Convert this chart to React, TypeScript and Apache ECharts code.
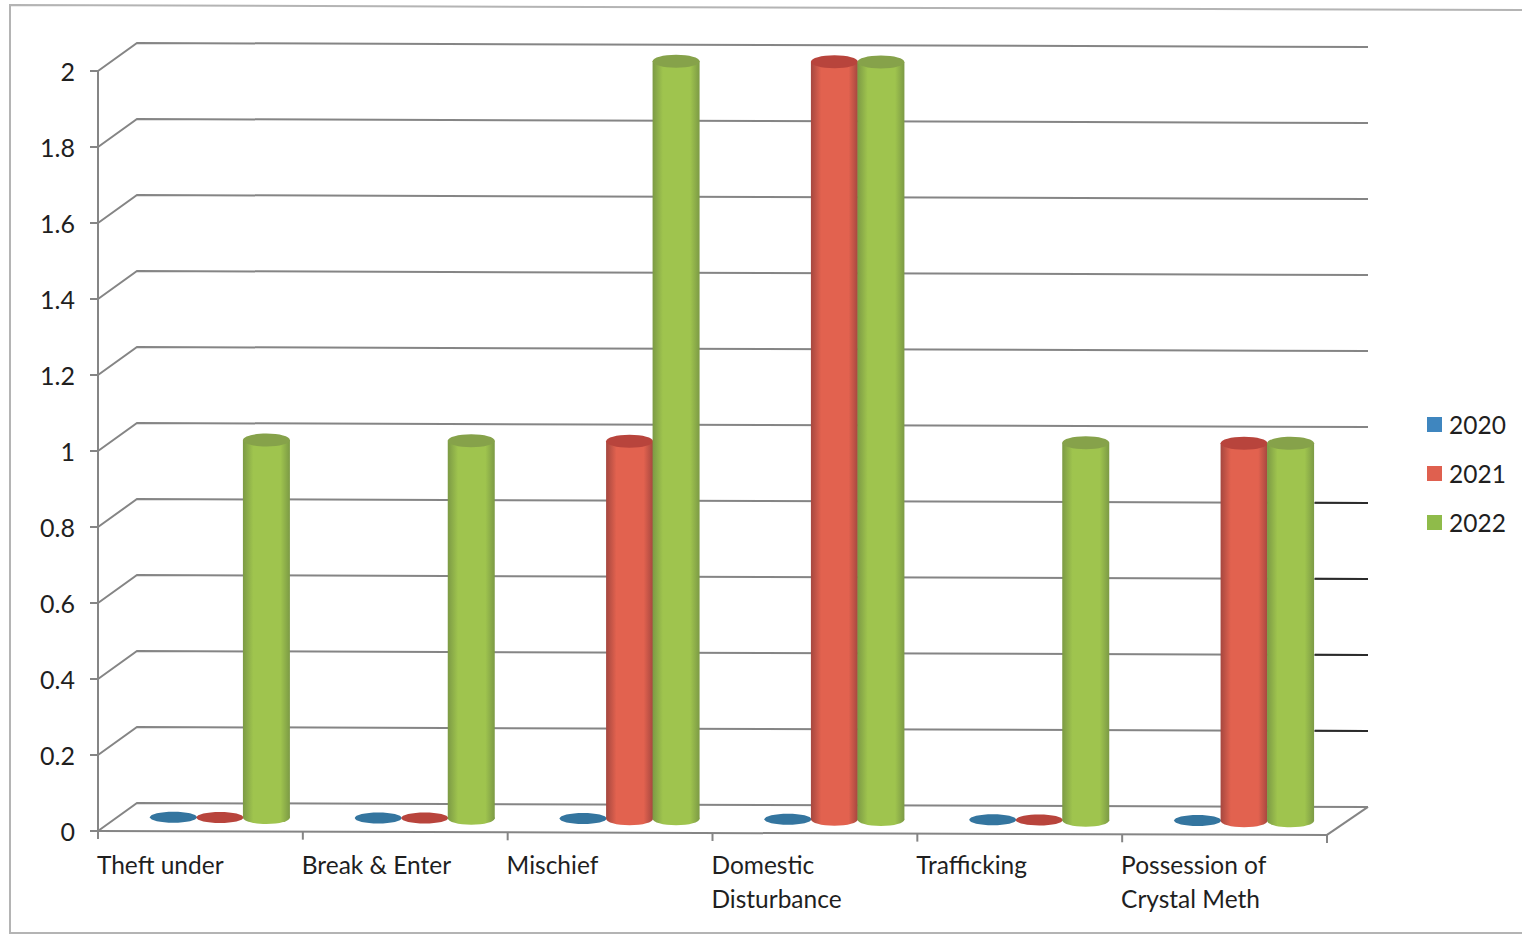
import React, { useEffect, useRef } from "react";
import * as echarts from "echarts";

const categories = [
  "Theft under",
  "Break & Enter",
  "Mischief",
  "Domestic\nDisturbance",
  "Trafficking",
  "Possession of\nCrystal Meth",
];
const years = ["2020", "2021", "2022"];
const values2020 = [0, 0, 0, 0, 0, 0];
const values2021 = [0, 0, 1, 2, 0, 1];
const values2022 = [1, 1, 2, 2, 1, 1];
const gridValues = [0, 0.2, 0.4, 0.6, 0.8, 1, 1.2, 1.4, 1.6, 1.8, 2];
const darkEndValues = [0.2, 0.4, 0.6, 0.8];

// Pseudo-3D projection of the plot box
const DEPTH_X = 39;
const DEPTH_Y = 28;
const TILT = 0.0032;
const BAR_W = 47;
const BAR_STEP = 46.5;
const CAP_RY = 6.5;
const CAP_DROP = 2.5;
const FONT = "Lato, Carlito, 'Noto Sans', sans-serif";
const TEXT_COLOR = "#1f1f1f";
const LINE_COLOR = "#858585";

const palette = [
  { legend: "#3f86bf", edge: "#2f6f9f", mid: "#4a90c4", cap: "#34759f" },
  { legend: "#df604f", edge: "#a5473f", mid: "#e2624f", cap: "#b8443c" },
  { legend: "#8fbb4a", edge: "#7c9a45", mid: "#9fc44e", cap: "#86a24a" },
];

const line = (x1: number, y1: number, x2: number, y2: number, color: string, width = 2) => ({
  type: "line",
  shape: { x1, y1, x2, y2 },
  style: { stroke: color, lineWidth: width },
});

// Back-wall gridline for one axis value, with its slanted run on the side wall
const renderGridLine = (params: any, api: any) => {
  const v = api.value(0);
  const sys = params.coordSys;
  const y = api.coord([0, v])[1];
  const backLeft = sys.x + DEPTH_X;
  const backRight = sys.x + sys.width + DEPTH_X + 2;
  const yBackLeft = y - DEPTH_Y;
  const yBackRight = yBackLeft + (backRight - backLeft) * TILT;
  const children: any[] = [
    {
      type: "polyline",
      shape: { points: [[sys.x, y], [backLeft, yBackLeft], [backRight, yBackRight]] },
      style: { stroke: LINE_COLOR, lineWidth: 2, fill: "none" },
    },
  ];
  if (darkEndValues.includes(v)) {
    const xd = sys.x + sys.width - 12;
    children.push(line(xd, yBackLeft + (xd - backLeft) * TILT, backRight, yBackRight, "#2b2b2b"));
  }
  return { type: "group", children };
};

// Front edge of the floor, its right-hand slant and the tick marks under it
const renderFloor = (params: any, api: any) => {
  const sys = params.coordSys;
  const y0 = api.coord([0, 0])[1];
  const right = sys.x + sys.width;
  const yAt = (x: number) => y0 + (x - sys.x) * TILT;
  const children: any[] = [
    line(sys.x, y0, right, yAt(right), LINE_COLOR),
    line(right, yAt(right), right + DEPTH_X + 2, yAt(right) - DEPTH_Y, LINE_COLOR),
  ];
  const band = sys.width / categories.length;
  for (let i = 0; i <= categories.length; i++) {
    const x = sys.x + band * i;
    children.push(line(x, yAt(x), x, yAt(x) + 8, LINE_COLOR));
  }
  return { type: "group", children };
};

// One cylinder: shaded body, base ellipse and darker top cap
const cylinderRenderer = (seriesIndex: number) => (params: any, api: any) => {
  const colors = palette[seriesIndex];
  const base = api.coord([api.value(0), 0]);
  const top = api.coord([api.value(0), api.value(1)]);
  const cx = base[0] + (seriesIndex - 1) * BAR_STEP + DEPTH_X / 2;
  const drop = (cx - params.coordSys.x) * TILT - DEPTH_Y / 2;
  const yBase = base[1] + drop;
  const raised = api.value(1) > 0;
  const yTop = top[1] + drop + (raised ? CAP_DROP : 0);
  const rx = BAR_W / 2;
  const fill = new echarts.graphic.LinearGradient(0, 0, 1, 0, [
    { offset: 0, color: colors.edge },
    { offset: 0.22, color: colors.mid },
    { offset: 0.8, color: colors.mid },
    { offset: 1, color: colors.edge },
  ]);
  const children: any[] = [];
  if (raised) {
    children.push(
      { type: "ellipse", shape: { cx, cy: yBase, rx, ry: CAP_RY }, style: { fill } },
      { type: "rect", shape: { x: cx - rx, y: yTop, width: BAR_W, height: yBase - yTop }, style: { fill } },
    );
  }
  children.push({
    type: "ellipse",
    shape: { cx, cy: yTop, rx, ry: raised ? CAP_RY : 5.5 },
    style: { fill: colors.cap },
  });
  return { type: "group", children };
};

const barSeries = (name: string, values: number[], index: number) => ({
  type: "custom",
  name,
  z: 5 + index,
  clip: false,
  silent: true,
  itemStyle: { color: palette[index].legend },
  encode: { x: 0, y: 1 },
  data: values.map((v, i) => [i, v]),
  renderItem: cylinderRenderer(index),
});

export default function App() {
  const ref = useRef<HTMLDivElement>(null);
  useEffect(() => {
    const chart = echarts.init(ref.current!, undefined, { renderer: "svg" });
    chart.setOption({
      animation: false,
      backgroundColor: "#ffffff",
      grid: { left: 98, top: 71, width: 1229, height: 760 },
      graphic: [
        {
          type: "polyline",
          silent: true,
          shape: { points: [[1522, 10], [10, 5], [10, 933], [1522, 933]] },
          style: { stroke: "#b4b4b4", lineWidth: 2, fill: "none" },
        },
      ],
      legend: {
        data: years,
        orient: "vertical",
        left: 1422,
        top: 407,
        icon: "rect",
        itemWidth: 15,
        itemHeight: 15,
        itemGap: 24,
        selectedMode: false,
        textStyle: { fontFamily: FONT, fontSize: 24.5, color: TEXT_COLOR, padding: [0, 0, 0, 2] },
      },
      xAxis: {
        type: "category",
        data: categories,
        axisLine: { show: false },
        axisTick: { show: false },
        axisLabel: {
          interval: 0,
          margin: 16,
          align: "center",
          hideOverlap: false,
          formatter: (text: string) =>
            text.split("\n").map((part) => `{a|${part}}`).join("\n"),
          rich: {
            a: {
              width: 207,
              align: "left",
              lineHeight: 34,
              fontFamily: FONT,
              fontSize: 24.5,
              color: TEXT_COLOR,
            },
          },
        },
      },
      yAxis: {
        type: "value",
        min: 0,
        max: 2,
        interval: 0.2,
        splitLine: { show: false },
        axisLine: { show: true, lineStyle: { color: LINE_COLOR, width: 2 } },
        axisTick: { show: true, length: 8, lineStyle: { color: LINE_COLOR, width: 2 } },
        axisLabel: { margin: 23, fontFamily: FONT, fontSize: 25, color: TEXT_COLOR },
      },
      series: [
        {
          type: "custom",
          name: "grid",
          z: 1,
          silent: true,
          clip: false,
          encode: { y: 0 },
          data: gridValues.map((v) => [v]),
          renderItem: renderGridLine,
        },
        {
          type: "custom",
          name: "floor",
          z: 2,
          silent: true,
          clip: false,
          data: [[0]],
          renderItem: renderFloor,
        },
        barSeries(years[0], values2020, 0),
        barSeries(years[1], values2021, 1),
        barSeries(years[2], values2022, 2),
      ],
    });
    return () => chart.dispose();
  }, []);
  return (
    <div
      ref={ref}
      style={{ position: "absolute", left: 0, top: 0, width: 1522, height: 935 }}
    />
  );
}
